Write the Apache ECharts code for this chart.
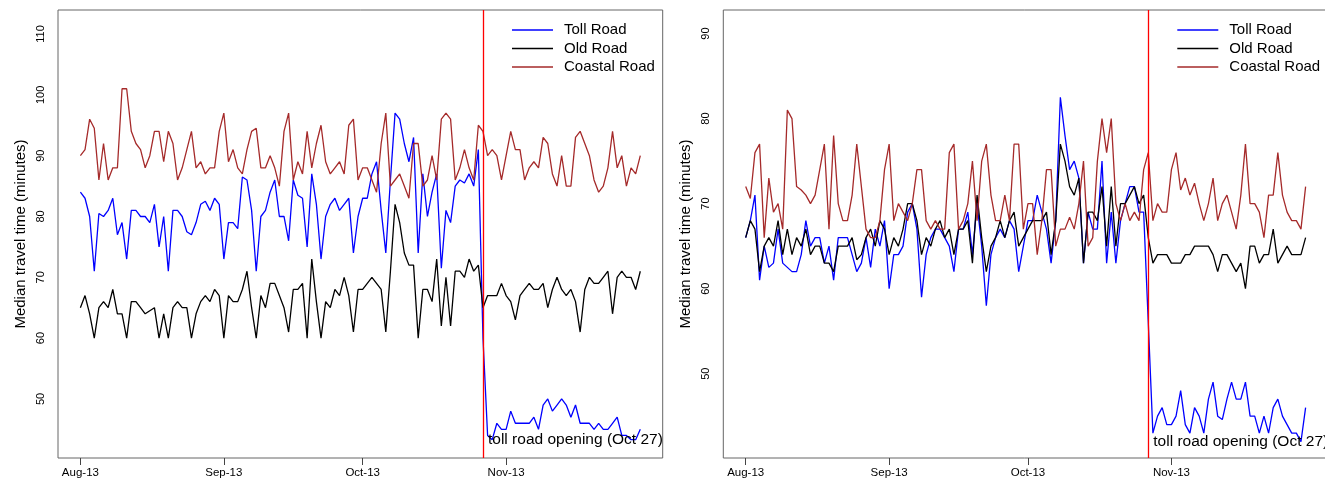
<!DOCTYPE html>
<html>
<head>
<meta charset="utf-8">
<script src="https://cdn.jsdelivr.net/npm/echarts@6/dist/echarts.min.js"></script>
<style>
html, body { margin: 0; padding: 0; background: #fff; }
#chart { width: 1325px; height: 481px; }
</style>
</head>
<body>
<div id="chart"></div>
<script>
// Daily median travel times; day 0 = 1 Aug 2013, day 121 = 30 Nov 2013
const seriesNames = ['Toll Road', 'Old Road', 'Coastal Road'];
const seriesColors = ['#0000FF', '#000000', '#A52A2A'];
const monthTickDays = [0, 31, 61, 92];
const monthTickLabels = ['Aug-13', 'Sep-13', 'Oct-13', 'Nov-13'];
const openingDay = 87; // 27 Oct 2013
const openingLabel = 'toll road opening (Oct 27)';
const yTitle = 'Median travel time (minutes)';

// Left panel
const tollA = [
  84, 83, 80, 71, 80.5, 80, 81, 83, 77, 79,
  73, 81, 81, 80, 80, 79, 82, 75, 80, 71,
  81, 81, 80, 77.5, 77, 79, 82, 82.5, 81, 83,
  82, 73, 79, 79, 78, 86.5, 86, 81, 71, 80,
  81, 84, 86, 80, 80, 76, 86, 83.5, 83, 75,
  87, 82, 73, 80, 82, 83, 81, 82, 83, 74,
  80, 83, 83, 87, 89, 81, 74, 86, 97, 96,
  92, 89, 93, 74, 87, 80, 84, 87, 71.5, 81,
  79, 85, 86, 85.5, 87, 85, 91, 60, 44, 43.3,
  46, 45, 45, 48, 46, 46, 46, 46, 47, 45,
  49, 50, 48, 49, 50, 49, 47, 49, 46, 46,
  46, 45, 46, 45, 45, 46, 47, 44, 44, 43.3,
  43.3, 45
];
const oldA = [
  65, 67, 64, 60, 65, 66, 65, 68, 64, 64,
  60, 66, 66, 65, 64, 64.5, 65, 60, 64, 60,
  65, 66, 65, 65, 60, 64, 66, 67, 66, 68,
  67, 60, 67, 66, 66, 68, 71, 65, 60, 67,
  65, 69, 69, 67, 65, 61, 68, 68, 69, 60,
  73, 66, 60, 66, 65, 68, 67, 70, 67, 61,
  68, 68, 69, 70, 69, 68, 61, 71, 82, 79,
  74, 72, 72, 60, 68, 68, 66, 73, 62, 70,
  62, 71, 71, 70, 73, 71, 72, 65, 67, 67,
  67, 69, 67, 66, 63, 67, 68, 69, 68, 68,
  69, 65, 68, 70, 68, 67, 68, 66, 61, 68,
  70, 69, 69, 70, 71, 64, 70, 71, 70, 70,
  68, 71
];
const coastalA = [
  90, 91, 96, 94.5, 86, 92, 86, 88, 88, 101,
  101, 94, 92, 91, 88, 90, 94, 94, 89, 94,
  92, 86, 88, 91, 94, 88, 89, 87, 88, 88,
  94, 97, 89, 91, 88, 87, 91, 94, 94.5, 88,
  88, 90, 88, 85, 94, 97, 86, 89, 87, 94,
  88, 92, 95, 89, 87, 88, 89, 87, 95, 96,
  86, 88, 88, 86, 84, 92, 97, 85, 86, 87,
  85, 83, 92, 92, 85, 86, 90, 86, 96, 97,
  96, 86, 88, 91, 88, 86, 95, 94, 90, 91,
  90, 86, 90, 94, 91, 91, 86, 88, 89, 88,
  93, 92, 87, 85, 90, 85, 85, 93, 94, 92,
  90, 86, 84, 85, 88, 94, 88, 90, 85, 88,
  87, 90
];

// Right panel
const tollB = [
  66, 68, 71, 61, 65, 62.5, 63, 67, 63, 62.5,
  62, 62, 64, 68, 65, 66, 66, 63, 65, 61,
  66, 66, 66, 64, 62, 63, 66, 62.5, 67, 65,
  68, 60, 64, 64, 65, 69, 70, 67, 59, 64,
  66, 67, 67, 66, 65, 62, 67, 67, 69, 64,
  70, 65, 58, 64, 66, 67, 66, 68, 67, 62,
  65, 68, 68, 71, 69, 67, 63, 68, 82.5, 78,
  74, 75, 73, 63, 69, 67, 67, 75, 63, 69,
  63, 68, 70, 72, 72, 69, 69, 56, 43, 45,
  46, 44, 44, 45, 48, 44, 43, 46, 45, 43,
  47, 49, 45, 44.6, 47, 49, 47, 47, 49, 45,
  45, 43, 45, 43, 46, 47, 45, 44, 43, 43,
  42, 46
];
const oldB = [
  66, 68, 67, 62, 65, 66, 65, 68, 64, 67,
  64, 66, 65, 67, 64, 65, 65, 63, 63, 62,
  65, 65, 65, 66, 63.4, 64, 66, 67, 65, 68,
  67, 64, 66, 65, 67, 70, 70, 68, 64, 66,
  65, 67, 68, 66, 67, 64, 67, 67, 68, 63,
  71, 66, 62, 65, 66, 68, 66, 68, 69, 65,
  66, 67, 68, 68, 68, 69, 64, 68, 77, 75,
  72, 71, 73, 63, 69, 69, 68, 72, 65, 72,
  65, 70, 70, 71, 72, 70, 71, 66, 63, 64,
  64, 64, 63, 63, 63, 64, 64, 65, 65, 65,
  65, 64, 62, 64, 64, 63, 62, 63, 60, 65,
  65, 63, 64, 64, 67, 63, 64, 65, 64, 64,
  64, 66
];
const coastalB = [
  72, 70.6, 76, 77, 66, 73, 69, 70, 67, 81,
  80, 72, 71.6, 71, 70, 71, 74, 77, 67, 78,
  70, 68, 68, 71, 77, 72, 67, 66, 66, 68,
  74, 77, 68, 70, 69, 68, 70, 74, 74, 68,
  67, 68, 67, 67, 76, 77, 67, 68, 70, 75,
  68, 75, 77, 71, 68, 68, 71, 68, 77, 77,
  67, 70, 70, 64, 68, 74, 74, 65, 67, 67,
  68.4, 67, 70, 75, 65, 66, 75, 80, 76, 80,
  70, 68, 70, 68, 69, 68, 74, 76, 68, 70,
  69, 69, 74, 76, 71.6, 73, 71, 72.4, 70, 68,
  70, 73, 68, 70, 71, 69, 67, 71, 77, 70,
  70, 69, 66, 71, 71, 76, 71, 69, 68, 68,
  67, 72
];

const yTicksA = [50, 60, 70, 80, 90, 100, 110];
const yTicksB = [50, 60, 70, 80, 90];

const FONT = '"Liberation Sans", Arial, Helvetica, sans-serif';
const xRange = [-4.84, 125.84];

const panels = [
  { left: 58, data: [tollA, oldA, coastalA], yRange: [40.29, 113.95], yTicks: yTicksA },
  { left: 723.3, data: [tollB, oldB, coastalB], yRange: [40.08, 92.77], yTicks: yTicksB }
];

const toPairs = arr => arr.map((v, i) => [i, v]);

const grid = [], xAxis = [], yAxis = [], series = [], legend = [];

panels.forEach((p, k) => {
  // the right panel's frame runs past the page edge
  grid.push({
    left: p.left, top: 10, width: 604.7, height: 448,
    outerBoundsMode: 'none', containLabel: false,
    show: true, borderColor: '#666', borderWidth: 1, backgroundColor: 'transparent'
  });
  xAxis.push({
    type: 'value', gridIndex: k, min: xRange[0], max: xRange[1],
    axisLine: { show: false },
    splitLine: { show: false },
    axisTick: { show: true, length: 7, lineStyle: { color: '#444' }, customValues: monthTickDays },
    axisLabel: {
      customValues: monthTickDays, margin: 9, fontFamily: FONT, fontSize: 11.5, color: '#000',
      formatter: v => monthTickLabels[monthTickDays.indexOf(v)]
    }
  });
  yAxis.push({
    type: 'value', gridIndex: k, min: p.yRange[0], max: p.yRange[1],
    axisLine: { show: false },
    splitLine: { show: false },
    axisTick: { show: false },
    axisLabel: {
      customValues: p.yTicks, rotate: 90, margin: 12, fontFamily: FONT, fontSize: 11, color: '#000'
    },
    name: yTitle, nameLocation: 'middle', nameRotate: 90, nameGap: 30,
    nameTextStyle: { fontFamily: FONT, fontSize: 15, color: '#000' }
  });
  legend.push({
    orient: 'vertical', left: p.left + 454, top: 21, padding: 0,
    itemWidth: 41, itemHeight: 1.4, itemGap: 0.5, icon: 'rect',
    data: seriesNames,
    textStyle: { fontFamily: FONT, fontSize: 15, color: '#000', lineHeight: 18, padding: [0, 0, 0, 6] }
  });
  const allVals = [].concat(...p.data);
  const labelY = Math.min(...allVals);
  p.data.forEach((arr, j) => {
    const s = {
      type: 'line', name: seriesNames[j], xAxisIndex: k, yAxisIndex: k,
      data: toPairs(arr), symbol: 'none', showSymbol: false,
      color: seriesColors[j], z: 2 + j,
      lineStyle: { color: seriesColors[j], width: 1.3 },
      animation: false
    };
    if (j === p.data.length - 1) {
      s.markLine = {
        silent: true, symbol: 'none', animation: false,
        label: { show: false },
        lineStyle: { color: '#FF0000', type: 'solid', width: 1.3 },
        data: [{ xAxis: openingDay }]
      };
      s.markPoint = {
        silent: true, animation: false, symbol: 'circle', symbolSize: 0,
        data: [{ coord: [openingDay, labelY] }],
        label: {
          show: true, position: 'right', distance: 5,
          formatter: openingLabel, fontFamily: FONT, fontSize: 15.5, color: '#000'
        }
      };
    }
    series.push(s);
  });
});

const chart = echarts.init(document.getElementById('chart'), null, { renderer: 'canvas' });
chart.setOption({
  animation: false,
  backgroundColor: '#fff',
  grid, xAxis, yAxis, legend, series
});
</script>
</body>
</html>
